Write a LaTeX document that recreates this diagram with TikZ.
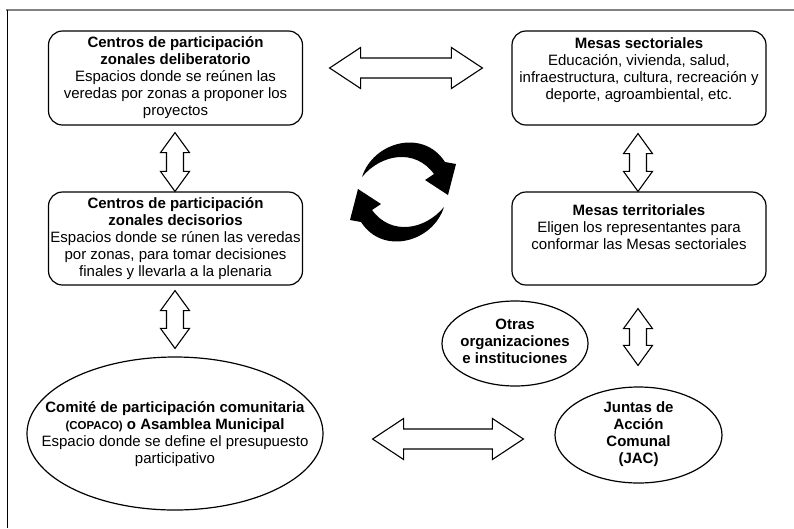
\documentclass[tikz,border=0pt]{standalone}
\usepackage{fontspec}
\setmainfont{Liberation Sans}
\usetikzlibrary{shapes.geometric,calc}
\newcommand\txtsz{\fontsize{15}{17}\selectfont}
\newcommand\smsz{\fontsize{11.5}{17}\selectfont}
\definecolor{framegray}{RGB}{130,130,130}
\newcommand\vdbl[2]{%
 \draw[blk] (#1) -- ($(#1)+(14.5,20)$) -- ($(#1)+(8.5,20)$) -- ($(#2)+(8.5,-20)$) -- ($(#2)+(14.5,-20)$) -- (#2) -- ($(#2)+(-14.5,-20)$) -- ($(#2)+(-8.5,-20)$) -- ($(#1)+(-8.5,20)$) -- ($(#1)+(-14.5,20)$) -- cycle;}
\newcommand\hdbl[2]{%
 \draw[blk] (#1) -- ($(#1)+(31,-20.5)$) -- ($(#1)+(31,-10)$) -- ($(#2)+(-31,-10)$) -- ($(#2)+(-31,-20.5)$) -- (#2) -- ($(#2)+(-31,20.5)$) -- ($(#2)+(-31,10)$) -- ($(#1)+(31,10)$) -- ($(#1)+(31,20.5)$) -- cycle;}
\tikzset{
 boxst/.style={draw, rounded corners=14pt, line width=1.2pt, minimum width=254pt, minimum height=94pt, inner sep=0pt},
 ellst/.style={draw, ellipse, line width=1.2pt, inner sep=0pt},
 txtst/.style={align=center, font=\txtsz, inner sep=0pt},
 blk/.style={draw, line width=1.1pt, fill=white, line join=miter},
}
\begin{document}
\begin{tikzpicture}[x=1pt,y=-1pt]
\useasboundingbox (0,0) rectangle (794,528);
% frame
\draw[framegray, line width=2pt] (6,10) -- (794,10);
\draw[line width=1.3pt] (7.5,10) -- (7.5,528);
% boxes
\node[boxst] (b1) at (175.5,78) {};
\node[txtst] (t1) at (175.5,78) {\textbf{Centros de participación}\\\textbf{zonales deliberatorio}\\Espacios donde se reúnen las\\veredas por zonas a proponer los\\proyectos};
\node[boxst, minimum height=93pt] (b2) at (175.5,238.5) {};
\node[txtst] (t2) at (175.5,238.5) {\textbf{Centros de participación}\\\textbf{zonales decisorios}\\Espacios donde se rúnen las veredas\\por zonas, para tomar decisiones\\finales y llevarla a la plenaria};
\node[boxst] (b3) at (639,78) {};
\node[txtst] (t3) at (639,70) {\textbf{Mesas sectoriales}\\Educación, vivienda, salud,\\infraestructura, cultura, recreación y\\deporte, agroambiental, etc.};
\node[boxst, minimum height=93pt] (b4) at (639,238.5) {};
\node[txtst] (t4) at (639,227) {\textbf{Mesas territoriales}\\Eligen los representantes para\\conformar las Mesas sectoriales};
% ellipses
\node[ellst, minimum width=296pt, minimum height=153pt] (e1) at (175,433.5) {};
\node[txtst] (te1) at (175,434) {\textbf{Comité de participación comunitaria}\\\textbf{{\smsz(COPACO)} o Asamblea Municipal}\\Espacio donde se define el presupuesto\\participativo};
\node[ellst, minimum width=146pt, minimum height=85pt] (e2) at (515,343.5) {};
\node[txtst, font=\txtsz\bfseries] (te2) at (515,341) {Otras\\organizaciones\\e instituciones};
\node[ellst, minimum width=167pt, minimum height=96pt] (e3) at (638.5,435) {};
\node[txtst, font=\txtsz\bfseries] (te3) at (638.5,434) {Juntas de\\Acción\\Comunal\\(JAC)};
% arrow end points
\coordinate (h1l) at ($(b1.east)+(26.5,-10)$);
\coordinate (h1r) at ($(b3.west)+(-29,-10)$);
\coordinate (v1t) at ($(b1.south)+(-0.5,7)$);
\coordinate (v1b) at ($(b2.north)+(-0.5,0)$);
\coordinate (v2t) at ($(b2.south)+(-0.5,5)$);
\coordinate (v2b) at ($(e1.north)+(0,-8)$);
\coordinate (v3t) at ($(b3.south)+(-1,8)$);
\coordinate (v3b) at ($(b4.north)+(-1,0)$);
\coordinate (v4t) at ($(b4.south)+(-1,23)$);
\coordinate (v4b) at ($(e3.north)+(-0.5,-21)$);
\coordinate (h2l) at ($(e1.east)+(49,5.5)$);
\coordinate (h2r) at ($(e3.west)+(-31,4)$);
\hdbl{h1l}{h1r}
\vdbl{v1t}{v1b}
\vdbl{v2t}{v2b}
\vdbl{v3t}{v3b}
\vdbl{v4t}{v4b}
\hdbl{h2l}{h2r}
% cycle arrows
\foreach \r in {0,180}{
\begin{scope}[shift={(403,192)}, rotate=\r]
\fill (-41,-15) .. controls (-30,-50) and (20,-64) .. (42,-30) -- (53,-28) -- (45,3) -- (22,-12) -- (31,-18) .. controls (12,-44) and (-22,-38) .. (-41,-15) -- cycle;
\end{scope}}
\end{tikzpicture}
\end{document}
